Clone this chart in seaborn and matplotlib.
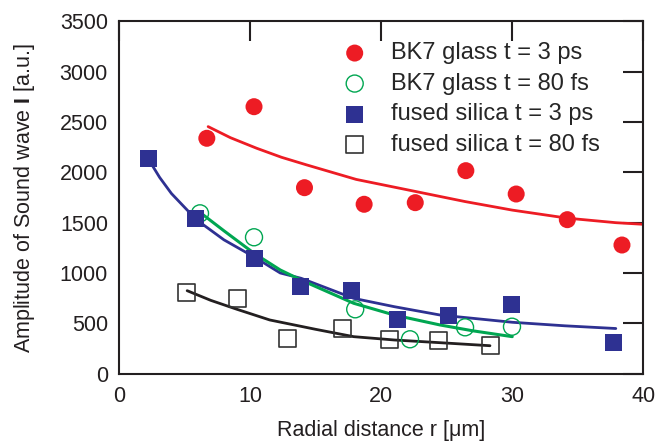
import matplotlib
matplotlib.use("Agg")
import matplotlib.pyplot as plt
import seaborn as sns

# measured points
bk7_3ps_r = [6.7, 10.3, 14.15, 18.7, 22.6, 26.46, 30.3, 34.2, 38.37]
bk7_3ps_amp = [2339, 2653, 1848, 1683, 1699, 2017, 1785, 1530, 1278]

bk7_80fs_r = [6.18, 10.3, 18.02, 22.2, 26.4, 29.98]
bk7_80fs_amp = [1593, 1355, 639, 341, 460, 466]

fs_3ps_r = [2.24, 5.85, 10.33, 13.87, 17.76, 21.27, 25.14, 29.98, 37.7]
fs_3ps_amp = [2140, 1544, 1146, 864, 824, 533, 582, 689, 311]

fs_80fs_r = [5.17, 9.03, 12.85, 17.07, 20.6, 24.4, 28.37]
fs_80fs_amp = [804, 748, 344, 450, 334, 324, 277]

# fit curves
bk7_3ps_fit_r = [6.8, 8.5, 10.5, 12.4, 14.3, 18.1, 21.5, 26.4, 30.0, 34.2,
                 37.9, 40.0]
bk7_3ps_fit_amp = [2455, 2345, 2240, 2150, 2075, 1930, 1840, 1710, 1625, 1545,
                   1500, 1484]

bk7_80fs_fit_r = [6.1, 8.0, 10.3, 12.3, 14.0, 17.9, 21.0, 24.5, 27.0, 30.0]
bk7_80fs_fit_amp = [1610, 1420, 1196, 1030, 923, 699, 582, 483, 425, 367]

fs_3ps_fit_r = [2.3, 3.1, 4.0, 5.9, 8.0, 10.3, 12.3, 13.9, 17.9, 21.0, 24.5,
                30.0, 34.0, 37.9]
fs_3ps_fit_amp = [2120, 1950, 1790, 1530, 1330, 1160, 1000, 947, 748, 665,
                  582, 510, 475, 448]

fs_80fs_fit_r = [5.2, 7.0, 9.0, 11.5, 15.0, 17.9, 21.0, 24.5, 28.3]
fs_80fs_fit_amp = [824, 728, 639, 533, 440, 367, 334, 307, 277]

labels = ["BK7 glass t = 3 ps", "BK7 glass t = 80 fs",
          "fused silica t = 3 ps", "fused silica t = 80 fs"]

red = "#ED1C24"
green = "#00A651"
blue = "#2E3192"
black = "#231F20"

sns.set_theme(style="white")
plt.rcParams["font.family"] = ["Liberation Sans", "DejaVu Sans"]
plt.rcParams["mathtext.fontset"] = "custom"
plt.rcParams["mathtext.rm"] = "Liberation Sans"
plt.rcParams["mathtext.bf"] = "Liberation Sans:bold"

fig, ax = plt.subplots(figsize=(6.56, 4.44), dpi=100)
fig.subplots_adjust(left=0.1814, right=0.9807, bottom=0.1586, top=0.9516)

# fit lines
sns.lineplot(x=bk7_3ps_fit_r, y=bk7_3ps_fit_amp, color=red, lw=2.0,
             ax=ax, zorder=2)
sns.lineplot(x=fs_3ps_fit_r, y=fs_3ps_fit_amp, color=blue, lw=2.0,
             ax=ax, zorder=2)
sns.lineplot(x=bk7_80fs_fit_r, y=bk7_80fs_fit_amp, color=green, lw=2.2,
             ax=ax, zorder=2.1)
sns.lineplot(x=fs_80fs_fit_r, y=fs_80fs_fit_amp, color=black, lw=2.0,
             ax=ax, zorder=2)

# data points
sns.scatterplot(x=bk7_3ps_r, y=bk7_3ps_amp, marker="o", s=150, color=red,
                edgecolor="none", ax=ax, zorder=3, label=labels[0])
sns.scatterplot(x=bk7_80fs_r, y=bk7_80fs_amp, marker="o", s=150,
                facecolor="none", edgecolor=green, linewidth=1.0, ax=ax,
                zorder=3, label=labels[1])
sns.scatterplot(x=fs_3ps_r, y=fs_3ps_amp, marker="s", s=150, color=blue,
                edgecolor="none", ax=ax, zorder=3, label=labels[2])
sns.scatterplot(x=fs_80fs_r, y=fs_80fs_amp, marker="s", s=150,
                facecolor="none", edgecolor="#333333", linewidth=1.2, ax=ax,
                zorder=3, label=labels[3])

ax.set_xlim(0, 40)
ax.set_ylim(0, 3500)
ax.set_xticks([0, 10, 20, 30, 40])
ax.set_yticks(range(0, 3501, 500))

for side in ax.spines.values():
    side.set_linewidth(1.5)
    side.set_color(black)

ax.tick_params(direction="in", length=14.5, width=1.5, color=black,
               top=True, right=True, labelsize=15.5, labelcolor=black)
ax.tick_params(axis="x", pad=9)
ax.tick_params(axis="y", pad=8)

ax.set_xlabel("Radial distance r [\u03bcm]", fontsize=15.5, color=black)
ax.set_ylabel("Amplitude of Sound wave $\\mathbf{I}$ [a.u.]", fontsize=15.5,
              color=black)
ax.xaxis.set_label_coords(0.5, -0.132)
ax.yaxis.set_label_coords(-0.157, 0.5)

ax.legend(loc="upper left", bbox_to_anchor=(0.427, 0.941), frameon=False,
          fontsize=17, borderpad=0, borderaxespad=0, handlelength=1.0,
          handletextpad=1.05, labelspacing=0.36, markerscale=1.0)

fig.savefig("out.png", dpi=100)
